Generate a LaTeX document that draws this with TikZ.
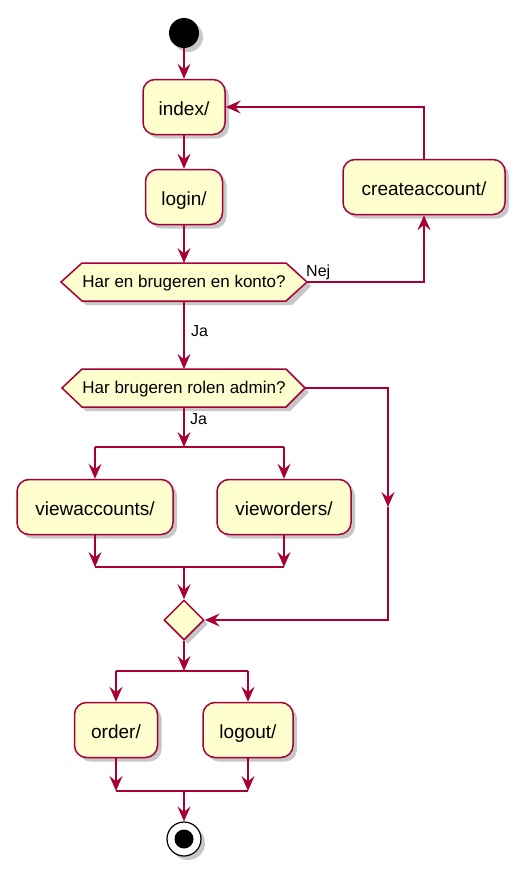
\documentclass[tikz,border=0pt]{standalone}
\usepackage{fontspec}
\setmainfont{Liberation Sans}
\usetikzlibrary{arrows.meta,shapes.geometric,shadows,calc}
\definecolor{actfill}{HTML}{FEFECE}
\definecolor{actline}{HTML}{A80036}
\tikzset{
  shad/.style={drop shadow={shadow xshift=4pt, shadow yshift=-4pt, fill=black, opacity=0.22}},
  act/.style={rectangle, rounded corners=12pt, draw=actline, fill=actfill, line width=1.5pt,
    minimum height=55pt, inner sep=0pt, text height=18.5pt, text depth=1.5pt,
    font=\fontsize{19}{22}\selectfont, shad},
  dectext/.style={inner sep=0pt, font=\fontsize{17}{20}\selectfont},
  decshape/.style={draw=actline, fill=actfill, line width=1.5pt, line join=miter},
  decshadow/.style={fill=black, opacity=0.22},
  merge/.style={diamond, aspect=1, minimum width=40pt, minimum height=40pt, inner sep=0pt,
    draw=actline, fill=actfill, line width=1.5pt, shad},
  flow/.style={draw=actline, line width=1.5pt, -{Stealth[length=15pt,width=13pt,inset=5.5pt]}},
  bar/.style={draw=actline, line width=1.5pt},
  lbl/.style={inner sep=0pt, font=\fontsize{16}{19}\selectfont},
}
\begin{document}
\begin{tikzpicture}[x=1pt,y=-1pt]
\useasboundingbox (0,0) rectangle (530,883);
% start
\node[circle, fill=black, minimum size=30pt, inner sep=0pt, shad] (start) at (184,33) {};
% activities
\node[act, minimum width=82pt] (index) at (184,107) {index/};
\node[act, minimum width=77pt] (login) at (184,197) {login/};
\node[act, minimum width=162pt] (create) at (424,187) {createaccount/};
% decision 1
\coordinate (d1w) at (61,282);
\coordinate (d1e) at (307,282);
\coordinate (d1n) at (184,263);
\coordinate (d1s) at (184,301);
\fill[decshadow] ($(d1w)+(4,4)$) -- (86,267) -- (292,267) -- ($(d1e)+(4,4)$) -- (292,305) -- (86,305) -- cycle;
\draw[decshape] (d1w) -- (82,263) -- (286,263) -- (d1e) -- (286,301) -- (82,301) -- cycle;
\node[dectext] (d1) at (184,283) {Har en brugeren en konto?};
% decision 2
\coordinate (d2w) at (62,388);
\coordinate (d2e) at (305,388);
\coordinate (d2n) at (184,369);
\coordinate (d2s) at (184,407);
\fill[decshadow] ($(d2w)+(4,4)$) -- (86,373) -- (290,373) -- ($(d2e)+(4,4)$) -- (290,411) -- (86,411) -- cycle;
\draw[decshape] (d2w) -- (82,369) -- (286,369) -- (d2e) -- (286,407) -- (82,407) -- cycle;
\node[dectext] (d2) at (184,389) {Har brugeren rolen admin?};
% fork 1
\coordinate (f1c) at (184,447);
\coordinate (f1l) at (95,447);
\coordinate (f1r) at (284,447);
\node[act, minimum width=156pt] (va) at (95,507) {viewaccounts/};
\node[act, minimum width=134pt] (vo) at (284,507) {vieworders/};
\coordinate (j1c) at (184,567);
\coordinate (j1l) at (95,567);
\coordinate (j1r) at (284,567);
\node[merge] (mg) at (184,620) {};
\coordinate (rb) at (388,507);
% fork 2
\coordinate (f2c) at (184,671);
\coordinate (f2l) at (116,671);
\coordinate (f2r) at (248,671);
\node[act, minimum width=83pt] (order) at (116,730) {order/};
\node[act, minimum width=90pt] (logout) at (248,730) {logout/};
\coordinate (j2c) at (184,791);
\coordinate (j2l) at (116,791);
\coordinate (j2r) at (248,791);
% end
\node[circle, draw=black, line width=1.2pt, fill=white, minimum size=34pt, inner sep=0pt, shad] (end) at (184,839) {};
\node[circle, fill=black, minimum size=19pt, inner sep=0pt] (endin) at (end.center) {};
% connectors
\draw[flow] (start) -- (index.north);
\draw[flow] (index.south) -- (login.north);
\draw[flow] (login.south) -- (d1n);
\draw[flow] (d1e) -| (create.south);
\draw[flow] (create.north) |- (index.east);
\node[lbl, anchor=south west] (nej) at (306,280) {Nej};
\draw[flow] (d1s) -- (d2n);
\node[lbl, anchor=west] (ja1) at (191,331) {Ja};
\draw[flow] (d2s) -- (f1c);
\node[lbl, anchor=west] (ja2) at (190,419) {Ja};
\draw[bar] (f1l) -- (f1r);
\draw[flow] (f1l) -- (va.north);
\draw[flow] (f1r) -- (vo.north);
\draw[flow] (va.south) -- (j1l);
\draw[flow] (vo.south) -- (j1r);
\draw[bar] (j1l) -- (j1r);
\draw[flow] (j1c) -- (mg.north);
\draw[flow] (d2e) -| (rb);
\draw[flow] (rb) |- (mg.east);
\draw[flow] (mg.south) -- (f2c);
\draw[bar] (f2l) -- (f2r);
\draw[flow] (f2l) -- (order.north);
\draw[flow] (f2r) -- (logout.north);
\draw[flow] (order.south) -- (j2l);
\draw[flow] (logout.south) -- (j2r);
\draw[bar] (j2l) -- (j2r);
\draw[flow] (j2c) -- (end.north);
\end{tikzpicture}
\end{document}
